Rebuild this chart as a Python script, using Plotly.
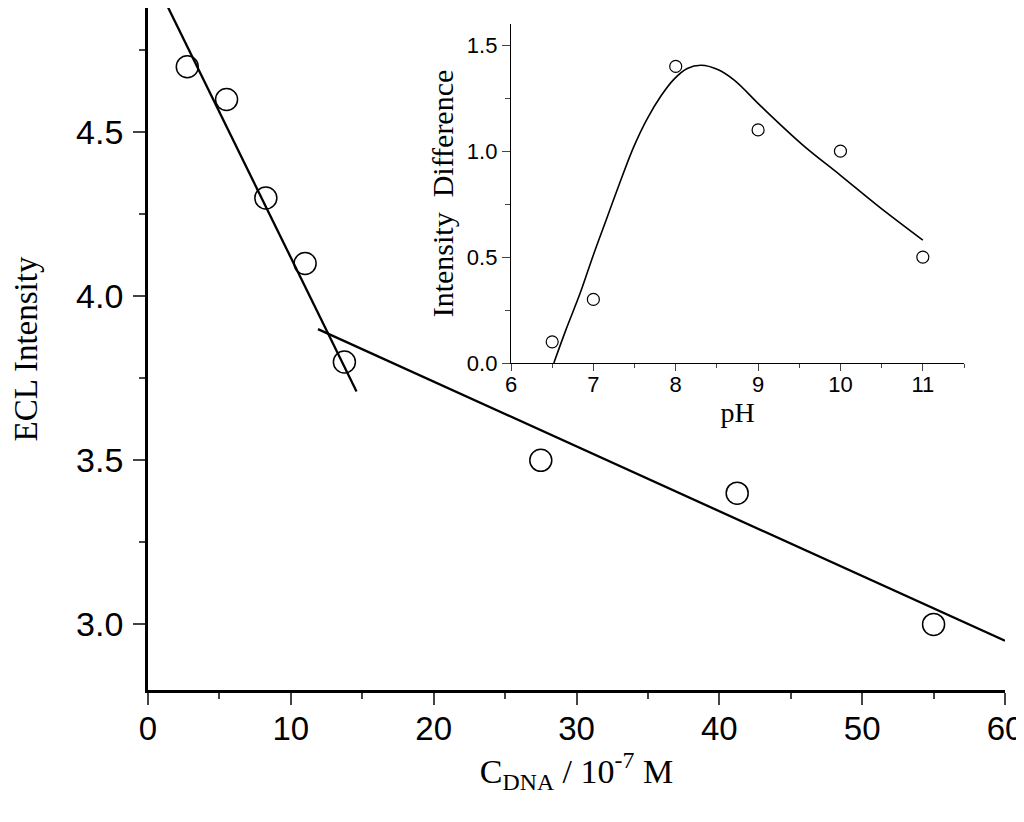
import plotly.graph_objects as go

# main plot: ECL intensity vs DNA concentration
c_dna = [2.75, 5.5, 8.25, 11.0, 13.75, 27.5, 41.25, 55.0]
ecl = [4.70, 4.60, 4.30, 4.10, 3.80, 3.50, 3.40, 3.00]

# two linear fits (end points)
fit1_x = [1.3, 14.6]
fit1_y = [4.89, 3.71]
fit2_x = [11.9, 60.0]
fit2_y = [3.90, 2.95]

# inset: intensity difference vs pH
ph = [6.5, 7.0, 8.0, 9.0, 10.0, 11.0]
diff = [0.10, 0.30, 1.40, 1.10, 1.00, 0.50]

# fitted curve of the inset, read point by point
curve_ph = [6.52, 6.67, 6.84, 7.0, 7.16, 7.33, 7.49, 7.65, 7.82, 7.98, 8.14, 8.31,
            8.51, 8.71, 9.04, 9.54, 10.0, 10.47, 11.0]
curve_y = [0.0, 0.16, 0.33, 0.51, 0.68, 0.86, 1.02, 1.15, 1.26, 1.34, 1.39, 1.405,
           1.385, 1.335, 1.21, 1.03, 0.886, 0.737, 0.58]

TICK_FONT = "Liberation Sans, Arial, sans-serif"
TITLE_FONT = "Liberation Serif, Times New Roman, serif"

# the page body adds 8px, so the plot area is laid out 8px up/left
W, H = 1024, 822
L, R, T, B = 140, 27, 0, 140
PW, PH = W - L - R, H - T - B

fig = go.Figure()

fig.add_trace(go.Scatter(x=fit1_x, y=fit1_y, mode="lines",
                         line=dict(color="black", width=2.3), showlegend=False))
fig.add_trace(go.Scatter(x=fit2_x, y=fit2_y, mode="lines",
                         line=dict(color="black", width=2.3), showlegend=False))
fig.add_trace(go.Scatter(x=c_dna, y=ecl, mode="markers",
                         marker=dict(symbol="circle-open", size=22, color="black",
                                     line=dict(width=1.5)),
                         showlegend=False))

fig.add_trace(go.Scatter(x=curve_ph, y=curve_y, mode="lines", xaxis="x2", yaxis="y2",
                         line=dict(color="black", width=1.6, shape="spline", smoothing=1.0),
                         showlegend=False))
fig.add_trace(go.Scatter(x=ph, y=diff, mode="markers", xaxis="x2", yaxis="y2",
                         marker=dict(symbol="circle-open", size=12, color="black",
                                     line=dict(width=1.2)),
                         showlegend=False))

fig.update_layout(
    width=W, height=H,
    paper_bgcolor="white", plot_bgcolor="white",
    margin=dict(l=L, r=R, t=T, b=B, autoexpand=False),
    xaxis=dict(
        domain=[0, 1], range=[0, 60], automargin=False,
        tick0=0, dtick=10, ticks="outside", ticklen=12, tickwidth=2,
        minor=dict(dtick=5, ticks="outside", ticklen=6, tickwidth=1.5),
        showline=True, linecolor="black", linewidth=2.5, showgrid=False, zeroline=False,
        tickfont=dict(family=TICK_FONT, size=33, color="black"), ticklabelstandoff=-4,
        title=dict(text="C<sub>DNA</sub> / 10<sup>-7</sup> M", standoff=10,
                   font=dict(family=TITLE_FONT, size=34, color="black")),
    ),
    yaxis=dict(
        domain=[0, 1], range=[2.8, 4.879], automargin=False,
        tick0=3.0, dtick=0.5, tickformat=".1f", ticks="outside", ticklen=12, tickwidth=2,
        minor=dict(dtick=0.25, ticks="outside", ticklen=6, tickwidth=1.5),
        showline=True, linecolor="black", linewidth=2.8, showgrid=False, zeroline=False,
        tickfont=dict(family=TICK_FONT, size=34, color="black"), ticklabelstandoff=3,
        title=dict(text="ECL Intensity", standoff=64,
                   font=dict(family=TITLE_FONT, size=33, color="black")),
    ),
    xaxis2=dict(
        domain=[(503 - L) / PW, (956 - L) / PW], range=[6, 11.5], anchor="y2",
        tick0=6, dtick=1, ticks="outside", ticklen=7, tickwidth=1.2,
        minor=dict(dtick=0.5, ticks="outside", ticklen=4, tickwidth=1),
        showline=True, linecolor="black", linewidth=1.3, showgrid=False, zeroline=False,
        tickfont=dict(family=TICK_FONT, size=22, color="black"), ticklabelstandoff=-6,
        title=dict(text="pH", standoff=2,
                   font=dict(family=TITLE_FONT, size=28, color="black")),
    ),
    yaxis2=dict(
        domain=[(682 - 355) / PH, (682 - 16) / PH], range=[0, 1.6], anchor="x2",
        tick0=0, dtick=0.5, tickformat=".1f", ticks="outside", ticklen=8, tickwidth=1.2,
        minor=dict(dtick=0.25, ticks="outside", ticklen=5, tickwidth=1),
        showline=True, linecolor="black", linewidth=1.3, showgrid=False, zeroline=False,
        tickfont=dict(family=TICK_FONT, size=22, color="black"),
        title=dict(text="Intensity  Difference", standoff=4,
                   font=dict(family=TITLE_FONT, size=30, color="black")),
    ),
)

fig.write_html("out.html")
